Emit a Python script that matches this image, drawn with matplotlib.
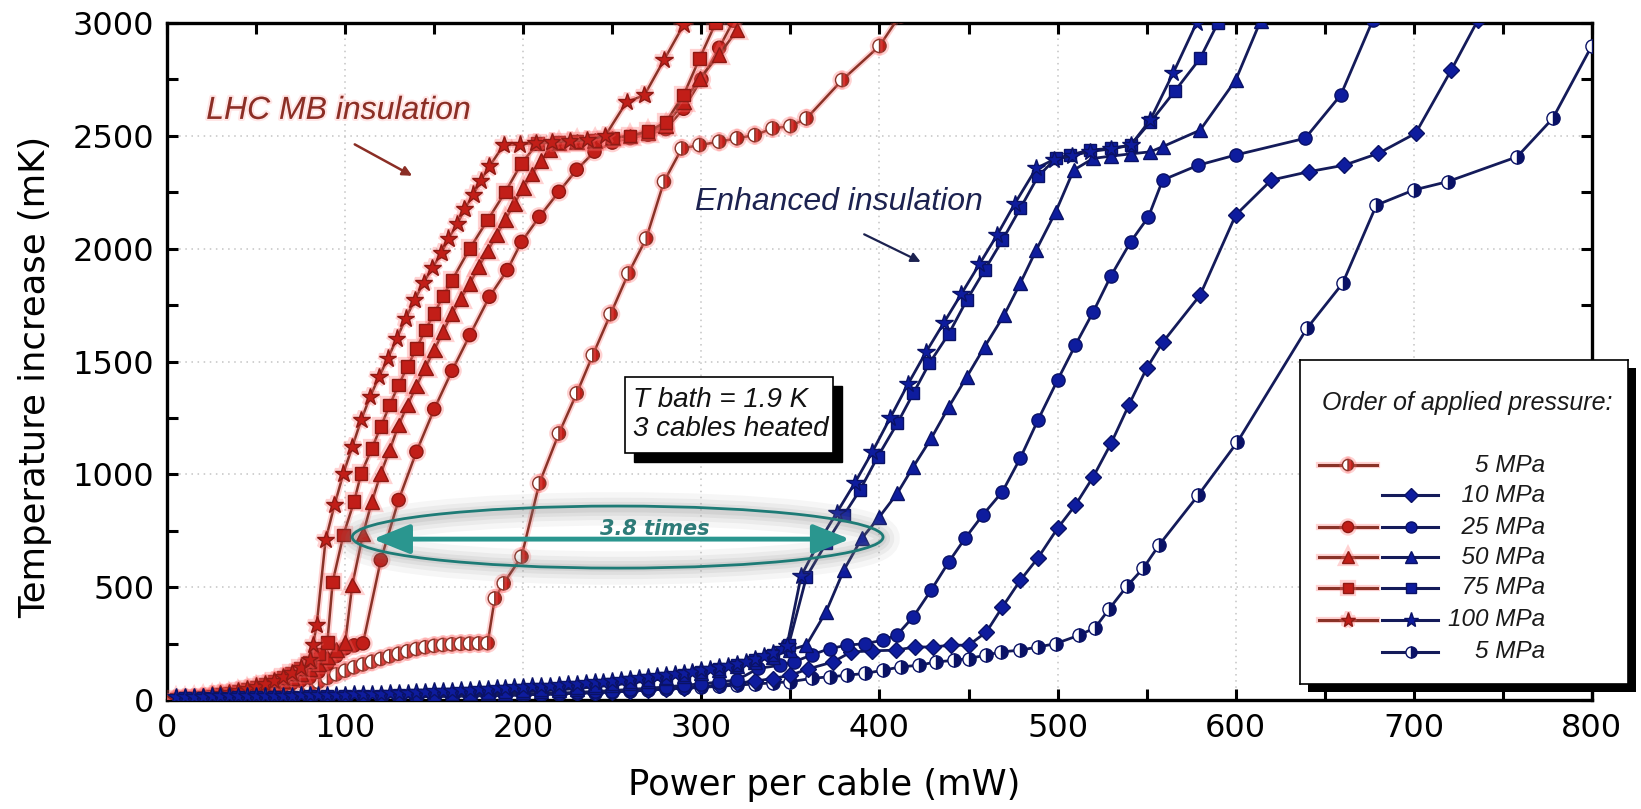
import matplotlib
matplotlib.use("Agg")
import matplotlib.pyplot as plt
import matplotlib.patheffects as pe
from matplotlib.patches import Ellipse, Rectangle, FancyArrowPatch
from matplotlib.ticker import MultipleLocator

RED_LINE = "#8A3328"
RED_FACE = "#C21E18"
RED_EDGE = "#8E1A14"
RED_GLOW = "#FF6A6A"
BLUE_LINE = "#141B5A"
BLUE_FACE = "#0E1C9E"
BLUE_EDGE = "#0A1266"
TEAL = "#2A968F"

# ---- LHC MB insulation (red) ----
lhc_5_x = [5, 10, 15, 20, 25, 30, 35, 40, 45, 50, 55, 60, 65, 70, 75, 80, 85, 90, 95, 100,
           105, 110, 115, 120, 125, 130, 135, 140, 145, 150, 155, 160, 165, 170, 175, 180,
           184, 189, 199, 209, 220, 230, 239, 249, 259, 269, 279, 289, 299, 310, 320, 330,
           340, 350, 359, 379, 400, 412]
lhc_5_y = [1, 2, 3, 5, 7, 9, 12, 15, 18, 22, 26, 31, 37, 44, 52, 64, 80, 98, 114, 130,
           145, 158, 170, 182, 194, 205, 216, 226, 234, 240, 244, 247, 249, 250, 251, 252,
           450, 517, 635, 960, 1181, 1359, 1528, 1710, 1890, 2045, 2297, 2444, 2459, 2474, 2489, 2503,
           2533, 2543, 2577, 2747, 2898, 3040]

lhc_25_x = [5, 10, 15, 20, 25, 30, 35, 40, 45, 50, 55, 60, 65, 70, 75, 80, 85, 90, 95, 100,
            105, 110, 120, 130, 140, 150, 160, 170, 181, 191, 199, 209, 220, 230, 240, 250,
            260, 270, 280, 290, 300, 310, 318]
lhc_25_y = [2, 4, 6, 9, 12, 16, 20, 25, 31, 38, 45, 54, 63, 74, 86, 100, 125, 160, 195, 229,
            242, 251, 620, 886, 1100, 1289, 1459, 1617, 1787, 1905, 2030, 2141, 2252, 2350, 2430, 2470,
            2490, 2505, 2530, 2620, 2750, 2890, 3010]

lhc_50_x = [5, 10, 15, 20, 25, 30, 35, 40, 45, 50, 55, 60, 65, 70, 75, 80, 85, 90, 95, 100,
            104, 110, 115, 120, 125, 130, 135, 140, 145, 150, 155, 160, 165, 170, 175, 180,
            185, 190, 195, 200, 205, 210, 215, 220, 230, 240, 250, 260, 270, 280, 290, 299,
            310, 320]
lhc_50_y = [2, 5, 8, 12, 16, 21, 27, 34, 42, 51, 61, 73, 86, 101, 118, 138, 160, 190, 225, 254,
            510, 735, 879, 1004, 1108, 1218, 1307, 1391, 1473, 1551, 1632, 1713, 1779, 1846, 1920, 1990,
            2060, 2130, 2200, 2270, 2330, 2390, 2440, 2468, 2475, 2480, 2490, 2500, 2515, 2545, 2650, 2754,
            2860, 2968]

lhc_75_x = [5, 10, 15, 20, 25, 30, 35, 40, 45, 50, 55, 60, 65, 70, 75, 80, 85, 90, 93, 99,
            105, 109, 115, 120, 125, 130, 135, 140, 145, 150, 155, 160, 170, 180, 190, 199,
            208, 220, 230, 240, 250, 260, 270, 280, 290, 299, 308]
lhc_75_y = [3, 6, 9, 13, 18, 24, 31, 39, 48, 58, 70, 84, 100, 118, 140, 168, 205, 255, 524, 731,
            879, 1004, 1115, 1211, 1307, 1396, 1477, 1558, 1639, 1713, 1790, 1860, 2001, 2127, 2252, 2378,
            2466, 2470, 2475, 2480, 2490, 2500, 2520, 2560, 2681, 2843, 3000]

lhc_100_x = [5, 10, 15, 20, 25, 30, 35, 40, 45, 50, 55, 60, 65, 70, 75, 80, 82, 84, 89, 94,
             99, 104, 109, 114, 119, 124, 129, 134, 139, 144, 149, 154, 158, 163, 167, 172,
             176, 181, 189, 198, 207, 216, 226, 236, 246, 258, 268, 279, 290, 296]
lhc_100_y = [4, 7, 11, 15, 20, 26, 33, 41, 50, 60, 72, 86, 102, 121, 145, 180, 244, 332, 709, 864,
             1004, 1122, 1241, 1344, 1432, 1514, 1602, 1691, 1772, 1849, 1915, 1980, 2045, 2110, 2175, 2240,
             2300, 2365, 2459, 2462, 2468, 2472, 2478, 2482, 2500, 2650, 2680, 2836, 2991, 3080]

# ---- Enhanced insulation (blue) ----
enh_10_x = [10, 20, 30, 40, 50, 60, 70, 80, 90, 100, 110, 120, 130, 140, 150, 160, 170, 180,
            190, 200, 210, 220, 230, 240, 250, 260, 270, 280, 290, 300, 310, 320, 330, 340,
            350, 360, 374, 384, 396, 409, 420, 430, 440, 450, 460, 469, 479, 489, 500, 510,
            520, 530, 540, 550, 559, 580, 600, 620, 641, 661, 680, 701, 721, 736]
enh_10_y = [3, 4, 5, 5, 6, 7, 8, 9, 10, 11, 12, 13, 14, 15, 16, 17, 18, 19,
            21, 23, 25, 27, 30, 33, 36, 40, 44, 49, 54, 60, 67, 75, 84, 95,
            110, 138, 169, 213, 218, 221, 235, 235, 243, 243, 301, 412, 530, 630, 761, 864,
            989, 1137, 1307, 1470, 1585, 1794, 2149, 2304, 2341, 2370, 2422, 2511, 2791, 3013]

enh_25_x = [10, 20, 30, 40, 50, 60, 70, 80, 90, 100, 110, 120, 130, 140, 150, 160, 170, 180,
            190, 200, 210, 220, 230, 240, 250, 260, 270, 280, 290, 300, 310, 320, 332, 344,
            352, 362, 372, 382, 392, 402, 410, 419, 429, 439, 448, 458, 469, 479, 489, 500,
            510, 520, 530, 541, 551, 559, 579, 600, 639, 659, 677]
enh_25_y = [4, 5, 6, 7, 8, 9, 10, 11, 12, 13, 14, 15, 16, 17, 18, 19, 20, 22,
            24, 26, 28, 31, 34, 38, 42, 47, 52, 58, 65, 72, 80, 89, 140, 154,
            169, 200, 228, 243, 250, 265, 290, 369, 487, 613, 716, 820, 923, 1071, 1241, 1418,
            1573, 1720, 1880, 2030, 2141, 2304, 2370, 2415, 2489, 2681, 3013]

enh_50_x = [10, 20, 30, 40, 50, 60, 70, 80, 90, 100, 110, 120, 130, 140, 150, 160, 170, 180,
            190, 200, 210, 220, 230, 240, 250, 260, 270, 280, 290, 300, 310, 320, 330, 340,
            350, 359, 370, 380, 390, 400, 410, 419, 429, 439, 449, 459, 470, 479, 488, 499,
            509, 520, 530, 541, 552, 559, 580, 600, 614]
enh_50_y = [6, 8, 9, 10, 11, 12, 13, 14, 15, 16, 17, 18, 19, 20, 22, 24, 26, 29,
            32, 36, 40, 45, 51, 58, 66, 75, 85, 96, 108, 121, 135, 151, 170, 192,
            222, 244, 391, 576, 716, 812, 916, 1034, 1159, 1300, 1432, 1565, 1706, 1846, 1994, 2164,
            2348, 2400, 2410, 2420, 2429, 2452, 2525, 2747, 3010]

enh_75_x = [10, 20, 30, 40, 50, 60, 70, 80, 90, 100, 110, 120, 130, 140, 150, 160, 170, 180,
            190, 200, 210, 220, 230, 240, 250, 260, 270, 280, 290, 300, 310, 320, 330, 340,
            349, 359, 370, 380, 389, 399, 410, 419, 428, 439, 449, 459, 469, 479, 489, 499,
            507, 518, 530, 541, 552, 566, 580, 590]
enh_75_y = [8, 10, 11, 12, 13, 14, 15, 16, 17, 18, 19, 20, 21, 22, 24, 26, 28, 31,
            34, 38, 43, 48, 54, 61, 69, 78, 88, 99, 111, 124, 139, 156, 176, 200,
            245, 546, 694, 820, 930, 1078, 1226, 1359, 1492, 1624, 1772, 1905, 2038, 2178, 2320, 2400,
            2415, 2437, 2444, 2459, 2560, 2700, 2843, 3000]

enh_100_x = [5, 10, 15, 20, 25, 30, 35, 40, 45, 50, 55, 60, 65, 70, 75, 80, 85, 90, 95, 100,
             105, 110, 115, 120, 125, 130, 135, 140, 145, 150, 155, 160, 165, 170, 175, 180,
             185, 190, 195, 200, 205, 210, 215, 220, 225, 230, 235, 240, 245, 250, 255, 260,
             265, 270, 275, 280, 285, 290, 295, 300, 305, 310, 315, 320, 325, 330, 335, 340,
             345, 348, 356, 366, 376, 386, 396, 406, 416, 426, 436, 446, 456, 466, 476, 488,
             498, 508, 518, 530, 541, 552, 565, 578]
enh_100_y = [14, 14, 15, 15, 16, 16, 17, 17, 18, 18, 19, 19, 20, 20, 21, 21, 22, 22, 23, 24,
             25, 26, 27, 28, 29, 30, 32, 34, 36, 38, 40, 42, 44, 46, 48, 50,
             52, 54, 56, 58, 60, 62, 64, 66, 69, 72, 75, 78, 81, 84, 88, 92,
             96, 100, 105, 110, 115, 120, 126, 132, 138, 145, 152, 160, 170, 182, 195, 210,
             228, 240, 550, 700, 830, 960, 1100, 1250, 1400, 1540, 1670, 1800, 1930, 2060, 2200, 2356,
             2395, 2412, 2430, 2442, 2458, 2570, 2780, 3000]

enh_5_x = [10, 20, 30, 40, 50, 60, 70, 80, 90, 100, 110, 120, 130, 140, 150, 160, 170, 180,
           190, 200, 210, 220, 230, 240, 250, 260, 270, 280, 290, 300, 310, 320, 330, 340,
           350, 362, 372, 382, 392, 402, 412, 422, 432, 442, 450, 460, 468, 479, 489, 499,
           512, 521, 529, 539, 548, 557, 579, 601, 640, 660, 679, 700, 719, 758, 778, 800]
enh_5_y = [3, 4, 5, 6, 7, 8, 9, 10, 11, 12, 13, 14, 15, 16, 17, 18, 19, 20,
           21, 23, 25, 27, 30, 33, 36, 40, 44, 48, 52, 56, 61, 66, 71, 76,
           81, 96, 103, 110, 118, 132, 147, 154, 169, 176, 184, 199, 213, 221, 235, 250,
           287, 320, 404, 505, 583, 687, 908, 1144, 1647, 1846, 2193, 2260, 2297, 2407, 2577, 2900]

fig = plt.figure(figsize=(16.41, 8.09), dpi=100)
ax = fig.add_axes([0.1018, 0.1347, 0.8683, 0.8369])
ax.set_xlim(0, 800)
ax.set_ylim(0, 3000)

glow = [pe.Stroke(linewidth=4.5, foreground=RED_GLOW, alpha=0.3), pe.Normal()]


def red_curve(x, y, marker, ms, half=False):
    kw = dict(color=RED_LINE, lw=1.8, marker=marker, ms=ms, mfc=RED_FACE,
              mec=RED_EDGE, mew=1.0, zorder=3, path_effects=glow)
    if half:
        kw.update(fillstyle="right", markerfacecoloralt="white", mec=RED_LINE)
    ax.plot(x, y, **kw)


def blue_curve(x, y, marker, ms, half=False):
    kw = dict(color=BLUE_LINE, lw=2.0, marker=marker, ms=ms, mfc=BLUE_FACE,
              mec=BLUE_EDGE, mew=1.0, zorder=4)
    if half:
        kw.update(fillstyle="right", markerfacecoloralt="white", mfc=BLUE_EDGE)
    ax.plot(x, y, **kw)


red_curve(lhc_5_x, lhc_5_y, "o", 9.5, half=True)
red_curve(lhc_25_x, lhc_25_y, "o", 9.5)
red_curve(lhc_50_x, lhc_50_y, "^", 10.5)
red_curve(lhc_75_x, lhc_75_y, "s", 9)
red_curve(lhc_100_x, lhc_100_y, "*", 13)

blue_curve(enh_5_x, enh_5_y, "o", 9.5, half=True)
blue_curve(enh_10_x, enh_10_y, "D", 8.5)
blue_curve(enh_25_x, enh_25_y, "o", 9.5)
blue_curve(enh_50_x, enh_50_y, "^", 10.5)
blue_curve(enh_75_x, enh_75_y, "s", 9)
blue_curve(enh_100_x, enh_100_y, "*", 13)

# axes styling
ax.xaxis.set_major_locator(MultipleLocator(100))
ax.xaxis.set_minor_locator(MultipleLocator(50))
ax.yaxis.set_major_locator(MultipleLocator(500))
ax.yaxis.set_minor_locator(MultipleLocator(250))
ax.tick_params(which="both", direction="in", top=True, right=True,
               length=8, width=2.2, labelsize=23, pad=9)
for s in ax.spines.values():
    s.set_linewidth(2.4)
ax.grid(True, which="major", color="#c4c4c4", linestyle=(0, (1, 3)), linewidth=1.1)
ax.set_axisbelow(True)
ax.set_xlabel("Power per cable (mW)", fontsize=25.5, va="center")
ax.set_ylabel("Temperature increase (mK)", fontsize=25.5, va="center")
ax.xaxis.set_label_coords(0.461, -0.1256)
ax.yaxis.set_label_coords(-0.0926, 0.477)

# annotations
ann_font = dict(family="Liberation Sans", style="italic")
ax.text(22, 2575, "LHC MB insulation", color="#8B2E25", fontsize=23, zorder=6,
        path_effects=[pe.Stroke(linewidth=3, foreground="#FFD6D6", alpha=0.6), pe.Normal()],
        **ann_font)
ax.annotate("", xy=(139, 2317), xytext=(104, 2468), zorder=6,
            arrowprops=dict(arrowstyle="-|>", color="#8B2E25", lw=1.8, mutation_scale=14))
ax.text(296.5, 2171, "Enhanced insulation", color="#1C2250", fontsize=23, zorder=6, **ann_font)
ax.annotate("", xy=(424.5, 1936), xytext=(390, 2069), zorder=6,
            arrowprops=dict(arrowstyle="-|>", color="#1C2250", lw=1.6, mutation_scale=14))

# T bath box with drop shadow
ax.add_patch(Rectangle((262.2, 1054), 116.8, 337, facecolor="black", edgecolor="black", zorder=7))
ax.add_patch(Rectangle((257.2, 1094), 116.8, 337, facecolor="white", edgecolor="black",
                       lw=1.2, zorder=8))
ax.text(261.5, 1263, "T bath = 1.9 K\n3 cables heated", fontsize=20, va="center", ha="left",
        linespacing=1.15, zorder=9, color="#111111", **ann_font)

# ratio ellipse and arrow
for lw_, a_ in [(24, 0.07), (16, 0.09), (10, 0.11), (5, 0.13)]:
    ax.add_patch(Ellipse((253, 716), 298, 262, fill=False, edgecolor="#808080",
                         lw=lw_, alpha=a_, zorder=5))
ax.add_patch(Ellipse((253, 722), 298, 275, fill=False, edgecolor="#1E7B76", lw=2.0, zorder=6))
ax.add_patch(FancyArrowPatch((114, 713), (385, 713),
                             arrowstyle="<|-|>,head_length=0.8,head_width=0.32",
                             mutation_scale=28, color=TEAL, lw=3.5, zorder=6))
ax.text(274, 733, "3.8 times", color="#2E7B78", fontsize=15, fontweight="bold",
        style="italic", ha="center", va="baseline", zorder=7)

# legend box (drawn by hand, it sticks out past the right spine)
W, H = 1641, 809
lx0, ly0, lw, lh = 1300, 684, 328, 324
fig.patches.append(Rectangle(((lx0 + 8) / W, (H - ly0 - 8) / H), lw / W, lh / H,
                             transform=fig.transFigure, facecolor="black", zorder=2))
lax = fig.add_axes([lx0 / W, (H - ly0) / H, lw / W, lh / H], zorder=3)
lax.set_xlim(0, lw)
lax.set_ylim(lh, 0)
lax.set_xticks([])
lax.set_yticks([])
for s in lax.spines.values():
    s.set_linewidth(1.2)

lax.text(22, 43, "Order of applied pressure:", fontsize=18, va="center", color="#1a1a1a", **ann_font)

leg_rows = [
    ("o-half", None, "\u2007\u20075 MPa"),
    (None, "D", "\u200710 MPa"),
    ("o", "o", "\u200725 MPa"),
    ("^", "^", "\u200750 MPa"),
    ("s", "s", "\u200775 MPa"),
    ("*", "*", "100 MPa"),
    (None, "o-half", "\u2007\u20075 MPa"),
]
leg_sizes = {"o": 8, "o-half": 8, "D": 7, "^": 9, "s": 7.5, "*": 11}
row_y = [105, 135, 167, 197, 228, 260, 292]
for (rm, bm, label), yy in zip(leg_rows, row_y):
    if rm:
        half = rm == "o-half"
        kw = dict(color=RED_LINE, lw=2.2, marker="o" if half else rm, ms=leg_sizes[rm],
                  mfc=RED_FACE, mec=RED_EDGE, markevery=[1], path_effects=glow)
        if half:
            kw.update(fillstyle="right", markerfacecoloralt="white", mec=RED_LINE)
        lax.plot([19, 48, 77], [yy, yy, yy], **kw)
    if bm:
        half = bm == "o-half"
        kw = dict(color=BLUE_LINE, lw=2.2, marker="o" if half else bm, ms=leg_sizes[bm],
                  mfc=BLUE_FACE, mec=BLUE_EDGE, markevery=[1])
        if half:
            kw.update(fillstyle="right", markerfacecoloralt="white", mfc=BLUE_EDGE)
        lax.plot([82, 111, 138], [yy, yy, yy], **kw)
    lax.text(245, yy, label, fontsize=17.5, ha="right", va="center", color="#1a1a1a", **ann_font)

fig.savefig("out.png", dpi=100)
